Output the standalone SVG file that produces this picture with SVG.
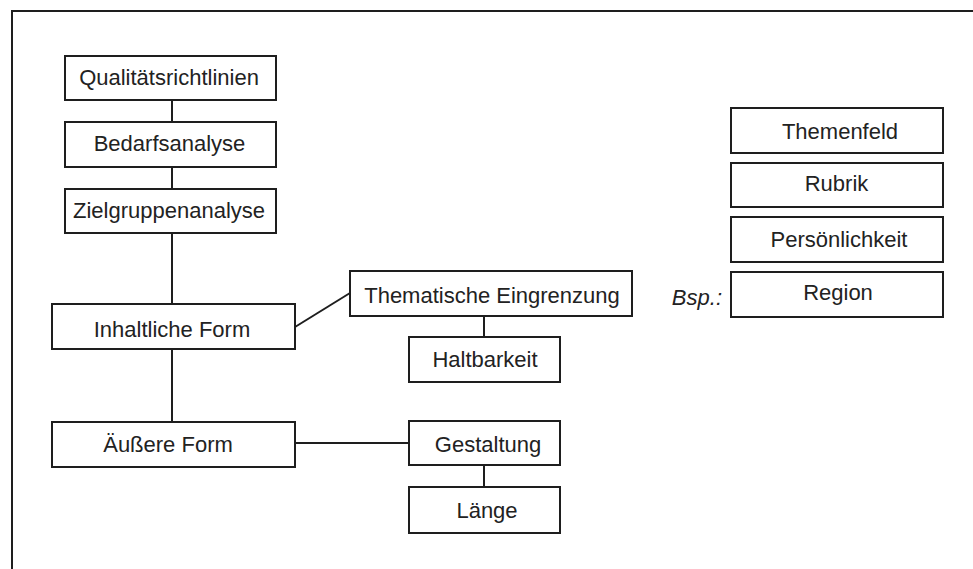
<svg xmlns="http://www.w3.org/2000/svg" width="973" height="569" viewBox="0 0 973 569">
<style>
.box{fill:#fff;stroke:#1e1e1e;stroke-width:2}
.t{font-family:"Liberation Sans",Arial,sans-serif;font-size:22px;fill:#222;text-anchor:middle}
.conn{stroke:#1e1e1e;stroke-width:2;fill:none}
</style>
<rect width="973" height="569" fill="#fff"/>
<path d="M12,569 V11 H973" class="conn"/>
<g id="connectors">
<line class="conn" x1="172" y1="100" x2="172" y2="122"/>
<line class="conn" x1="172" y1="167" x2="172" y2="189"/>
<line class="conn" x1="172" y1="233" x2="172" y2="304"/>
<line class="conn" x1="172" y1="349" x2="172" y2="422"/>
<line class="conn" x1="295" y1="327" x2="350" y2="293"/>
<line class="conn" x1="484" y1="316" x2="484" y2="337"/>
<line class="conn" x1="295" y1="443" x2="409" y2="443"/>
<line class="conn" x1="484" y1="465" x2="484" y2="487"/>
</g>
<g id="n-qualitaet"><rect class="box" x="65" y="56" width="211" height="44"/><text class="t" x="169" y="85">Qualitätsrichtlinien</text></g>
<g id="n-bedarf"><rect class="box" x="65" y="122" width="211" height="45"/><text class="t" x="169.5" y="151">Bedarfsanalyse</text></g>
<g id="n-ziel"><rect class="box" x="65" y="189" width="211" height="44"/><text class="t" x="169" y="218">Zielgruppenanalyse</text></g>
<g id="n-inhalt"><rect class="box" x="52" y="304" width="243" height="45"/><text class="t" x="172" y="337">Inhaltliche Form</text></g>
<g id="n-aeussere"><rect class="box" x="52" y="422" width="243" height="45"/><text class="t" x="168" y="452">Äußere Form</text></g>
<g id="n-thema"><rect class="box" x="350" y="271" width="282" height="45"/><text class="t" x="492" y="302.5">Thematische Eingrenzung</text></g>
<g id="n-halt"><rect class="box" x="409" y="337" width="151" height="45"/><text class="t" x="485" y="367">Haltbarkeit</text></g>
<g id="n-gestalt"><rect class="box" x="409" y="421" width="151" height="44"/><text class="t" x="488" y="451.5">Gestaltung</text></g>
<g id="n-laenge"><rect class="box" x="409" y="487" width="151" height="46"/><text class="t" x="487" y="518">Länge</text></g>
<g id="n-themenfeld"><rect class="box" x="731" y="108" width="212" height="45"/><text class="t" x="840" y="139">Themenfeld</text></g>
<g id="n-rubrik"><rect class="box" x="731" y="163" width="212" height="44"/><text class="t" x="836.5" y="191">Rubrik</text></g>
<g id="n-person"><rect class="box" x="731" y="217" width="212" height="45"/><text class="t" x="839" y="247">Persönlichkeit</text></g>
<g id="n-region"><rect class="box" x="731" y="272" width="212" height="45"/><text class="t" x="838" y="300">Region</text></g>
<text x="722" y="305" style="font-family:'Liberation Sans',Arial,sans-serif;font-size:22px;font-style:italic;fill:#222;text-anchor:end">Bsp.:</text>
</svg>
